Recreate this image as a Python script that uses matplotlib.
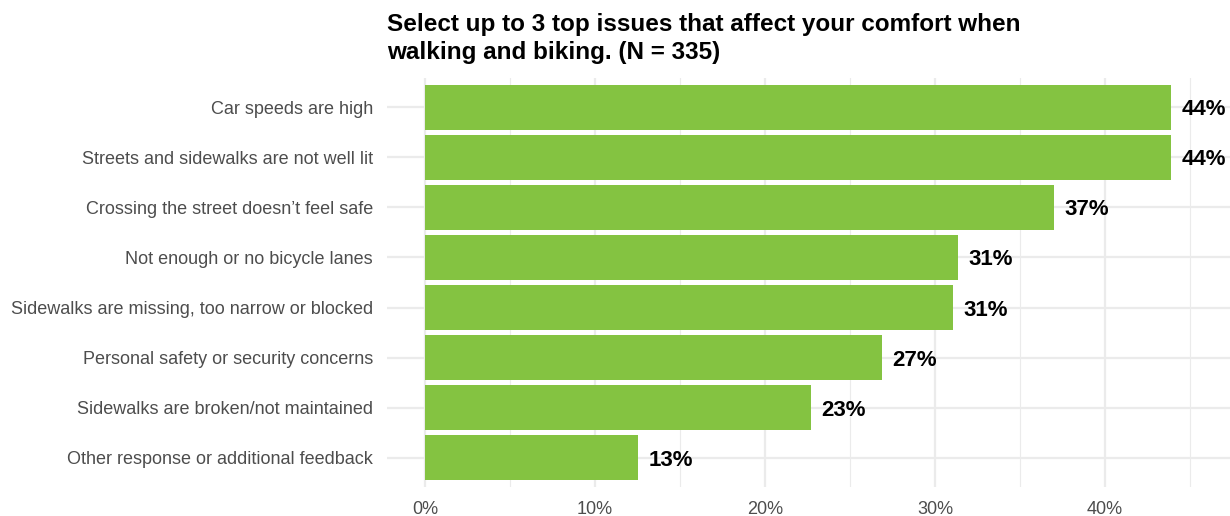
import matplotlib
matplotlib.use("Agg")
import matplotlib.pyplot as plt
import numpy as np

plt.rcParams["font.family"] = ["Liberation Sans", "DejaVu Sans"]

# Survey responses (multi-select, up to 3 per respondent)
n_respondents = 335
issues = [
    "Car speeds are high",
    "Streets and sidewalks are not well lit",
    "Crossing the street doesn\u2019t feel safe",
    "Not enough or no bicycle lanes",
    "Sidewalks are missing, too narrow or blocked",
    "Personal safety or security concerns",
    "Sidewalks are broken/not maintained",
    "Other response or additional feedback",
]
counts = [147, 147, 124, 105, 104, 90, 76, 42]
x_ticks = [0, 10, 20, 30, 40]
x_tick_labels = ["0%", "10%", "20%", "30%", "40%"]

pct = [c / n_respondents * 100 for c in counts]

W, H = 1230, 516
fig = plt.figure(figsize=(W / 100, H / 100), dpi=100)
left, right, top, bottom = 387, 1230, 78, 487
ax = fig.add_axes([left / W, 1 - bottom / H, (right - left) / W, (bottom - top) / H])

bar_color = "#84C341"
grid_color = "#EBEBEB"

ypos = np.arange(len(issues))[::-1] + 1  # first issue on top
ax.barh(ypos, pct, height=0.9, color=bar_color, zorder=3)

for y, p in zip(ypos, pct):
    ax.text(p + 0.6, y, f"{p:.0f}%", va="center_baseline", ha="left",
            fontsize=16, fontweight="bold", color="black", zorder=4)

ax.set_xlim(-2.24, 47.35)
ax.set_ylim(0.42, 8.58)

ax.set_xticks(x_ticks)
ax.set_xticklabels(x_tick_labels)
ax.set_xticks([5, 15, 25, 35, 45], minor=True)
ax.set_yticks(ypos)
ax.set_yticklabels(issues)

ax.grid(True, which="major", axis="both", color=grid_color, linewidth=1.6, zorder=0)
ax.grid(True, which="minor", axis="x", color=grid_color, linewidth=0.8, zorder=0)
for s in ax.spines.values():
    s.set_visible(False)
ax.tick_params(axis="both", which="both", length=0)
ax.tick_params(axis="y", pad=10, labelsize=13, labelcolor="#4D4D4D")
ax.tick_params(axis="x", pad=10, labelsize=13, labelcolor="#4D4D4D")

fig.text(387 / W, 1 - 13 / H,
         "Select up to 3 top issues that affect your comfort when\nwalking and biking. (N = 335)",
         ha="left", va="top", fontsize=17.5, fontweight="bold",
         linespacing=1.25, color="black")

fig.savefig("out.png", dpi=100)
